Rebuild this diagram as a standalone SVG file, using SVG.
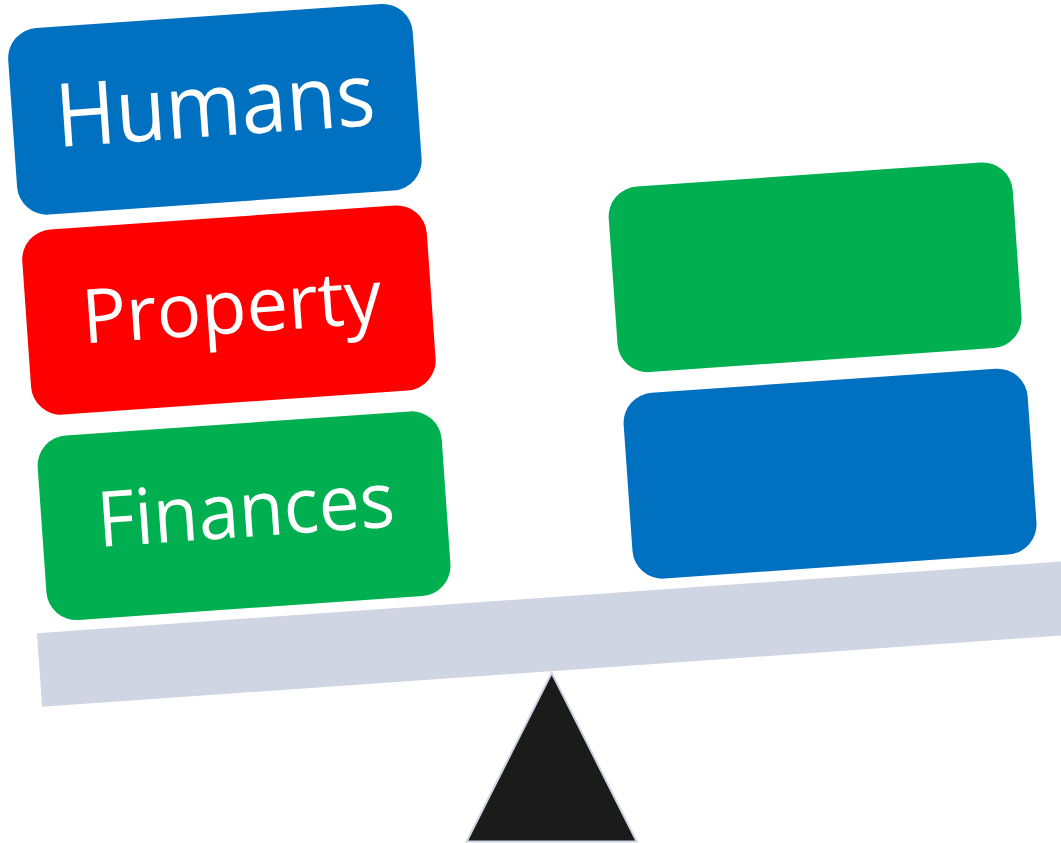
<svg xmlns="http://www.w3.org/2000/svg" width="1061" height="843" viewBox="0 0 1061 843">
<style>
.blue{fill:#0070C0}
.red{fill:#FF0000}
.green{fill:#00B050}
.lbl{font-family:"Open Sans","Noto Sans",sans-serif;fill:#FFFFFF;text-anchor:middle}
</style>
<rect width="1061" height="843" fill="#FFFFFF"/>
<g id="fulcrum">
<polygon points="551.7,673 466.7,841.5 636.7,841.5" fill="#1B1B1B" stroke="#CDD3E1" stroke-width="2" stroke-linejoin="miter"/>
</g>
<g transform="rotate(-4)">
<g id="beam"><rect x="-7.3" y="634.2" width="1200" height="73.8" fill="#CFD5E3"/></g>
<g id="humans">
<rect class="blue" x="4" y="30.5" width="405.5" height="187" rx="30" ry="30"/>
<text class="lbl" x="207.3" y="150.7" font-size="88" textLength="320" lengthAdjust="spacingAndGlyphs">Humans</text>
</g>
<g id="property">
<rect class="red" x="4" y="232.5" width="405.5" height="185.5" rx="30" ry="30"/>
<text class="lbl" x="209.5" y="348.6" font-size="75" textLength="300" lengthAdjust="spacingAndGlyphs">Property</text>
</g>
<g id="finances">
<rect class="green" x="5" y="439" width="405" height="185" rx="30" ry="30"/>
<text class="lbl" x="209.5" y="552.6" font-size="77" textLength="298" lengthAdjust="spacingAndGlyphs">Finances</text>
</g>
<g id="right-green">
<rect class="green" x="592" y="230.5" width="405" height="186" rx="30" ry="30"/>
</g>
<g id="right-blue">
<rect class="blue" x="592.5" y="437.3" width="405" height="186.2" rx="30" ry="30"/>
</g>
</g>
<g id="connectors"/>
</svg>
